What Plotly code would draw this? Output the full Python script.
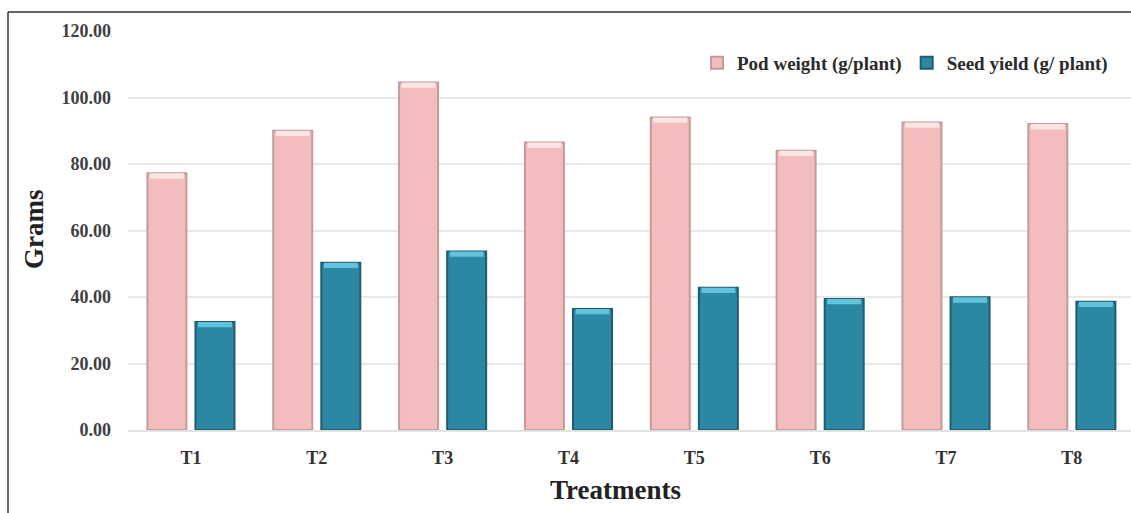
import plotly.graph_objects as go

# Treatments and measured values (grams)
treatments = ["T1", "T2", "T3", "T4", "T5", "T6", "T7", "T8"]
pod_weight = [77.2, 90.0, 104.5, 86.5, 94.0, 84.0, 92.5, 92.0]
seed_yield = [32.5, 50.3, 53.7, 36.4, 42.8, 39.4, 39.9, 38.6]
y_ticks = [0, 20, 40, 60, 80, 100, 120]

xpos = list(range(len(treatments)))

# bar geometry in category units
BAR_W = 0.31
HALF_GAP = 0.036
CAP_H = 1.6

pink_fill, pink_edge, pink_cap = "#F3BDBD", "#C49A9A", "#FCE6E3"
teal_fill, teal_edge, teal_cap = "#2C87A3", "#1D5E71", "#63C3DD"

fig = go.Figure()

series = [
    ("Pod weight (g/plant)", pod_weight, -HALF_GAP - BAR_W, pink_fill, pink_edge, pink_cap),
    ("Seed yield (g/ plant)", seed_yield, HALF_GAP, teal_fill, teal_edge, teal_cap),
]

for name, vals, off, fill, edge, cap in series:
    fig.add_trace(go.Bar(
        x=xpos, y=vals, name=name,
        offset=off, width=BAR_W,
        marker=dict(color=fill, line=dict(color=edge, width=2)),
        hovertemplate="%{y:.2f}<extra>" + name + "</extra>",
    ))

for name, vals, off, fill, edge, cap in series:
    # lighter cylinder cap at the top of each bar
    fig.add_trace(go.Bar(
        x=xpos, y=[CAP_H] * len(vals), base=[v - CAP_H for v in vals],
        offset=off + 0.02, width=BAR_W - 0.04,
        marker=dict(color=cap, line=dict(width=0)),
        showlegend=False, hoverinfo="skip",
    ))

serif = "Liberation Serif, Times New Roman, serif"

# plot-area pixel extents, used to place paper-referenced items
L, T, B = 128, 31, 83
px_w, px_h = 1131 - L, 513 - T - B


def paper_x(px):
    return (px - L) / px_w


def paper_y(py):
    return (513 - B - py) / px_h


fig.update_layout(
    width=1131, height=513,
    margin=dict(l=L, r=0, t=T, b=B),
    paper_bgcolor="white", plot_bgcolor="white",
    barmode="overlay",
    font=dict(family=serif, color="#333333"),
    showlegend=True,
    legend=dict(
        orientation="h", x=paper_x(1113), xanchor="right",
        y=paper_y(63), yanchor="middle",
        font=dict(family=serif, size=19, color="#2a2a2a", weight="bold"),
        bgcolor="rgba(0,0,0,0)", itemwidth=30, traceorder="normal",
    ),
    xaxis=dict(
        range=[-0.5, 7.47],
        tickmode="array", tickvals=xpos, ticktext=treatments,
        tickfont=dict(family=serif, size=18, color="#333333", weight="bold"),
        ticks="", ticklabelstandoff=10,
        showgrid=False, zeroline=False,
        showline=True, linecolor="#E2E2E2", linewidth=2,
    ),
    yaxis=dict(
        range=[0, 120],
        tickmode="array", tickvals=y_ticks, tickformat=".2f",
        tickfont=dict(family=serif, size=18, color="#404040", weight="bold"),
        ticks="", ticklabelstandoff=16,
        showgrid=True, gridcolor="#E8E8E8", gridwidth=1.5,
        zeroline=False, showline=False,
    ),
)

# axis titles
fig.add_annotation(
    text="Treatments", xref="paper", yref="paper",
    x=paper_x(615), y=paper_y(490), xanchor="center", yanchor="middle",
    showarrow=False,
    font=dict(family=serif, size=27, color="#222222", weight="bold"),
)
fig.add_annotation(
    text="Grams", xref="paper", yref="paper",
    x=paper_x(34), y=paper_y(230), xanchor="center", yanchor="middle",
    textangle=-90, showarrow=False,
    font=dict(family=serif, size=27, color="#222222", weight="bold"),
)

# outer frame (left and top edges)
fx = paper_x(8)
fy_top = paper_y(12)
fy_bot = paper_y(520)
fig.add_shape(type="line", xref="paper", yref="paper",
              x0=fx, x1=fx, y0=fy_bot, y1=fy_top,
              line=dict(color="#333333", width=1.5))
fig.add_shape(type="line", xref="paper", yref="paper",
              x0=fx, x1=1.02, y0=fy_top, y1=fy_top,
              line=dict(color="#333333", width=1.5))

fig.write_html("out.html")
